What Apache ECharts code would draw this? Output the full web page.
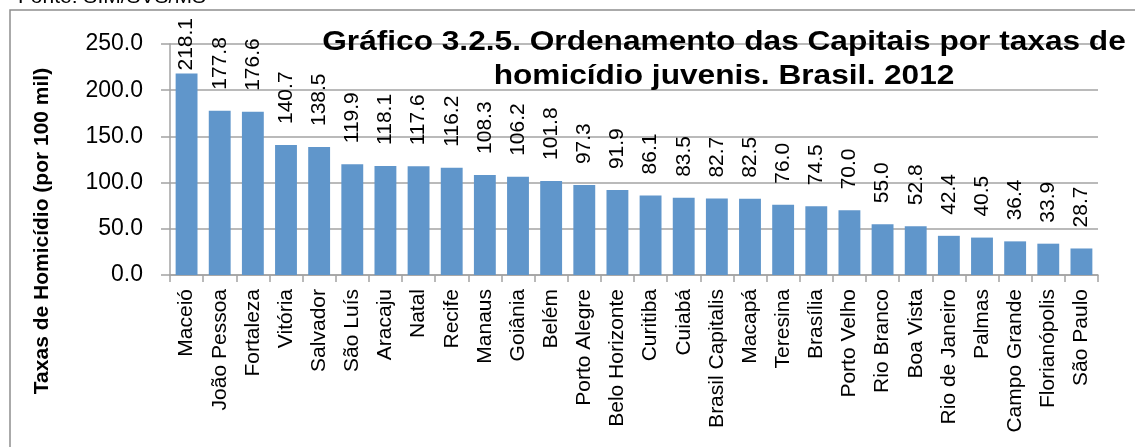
<!DOCTYPE html>
<html>
<head>
<meta charset="utf-8">
<script src="https://cdn.jsdelivr.net/npm/echarts@6/dist/echarts.min.js"></script>
<style>
  html, body { margin: 0; padding: 0; background: #fff; }
  #chart { width: 1135px; height: 447px; }
</style>
</head>
<body>
<div id="chart"></div>
<script>
const capitais = ['Maceió', 'João Pessoa', 'Fortaleza', 'Vitória', 'Salvador', 'São Luís', 'Aracaju',
  'Natal', 'Recife', 'Manaus', 'Goiânia', 'Belém', 'Porto Alegre', 'Belo Horizonte', 'Curitiba',
  'Cuiabá', 'Brasil Capitalis', 'Macapá', 'Teresina', 'Brasília', 'Porto Velho', 'Rio Branco',
  'Boa Vista', 'Rio de Janeiro', 'Palmas', 'Campo Grande', 'Florianópolis', 'São Paulo'];
const taxas = [218.1, 177.8, 176.6, 140.7, 138.5, 119.9, 118.1, 117.6, 116.2, 108.3, 106.2, 101.8,
  97.3, 91.9, 86.1, 83.5, 82.7, 82.5, 76.0, 74.5, 70.0, 55.0, 52.8, 42.4, 40.5, 36.4, 33.9, 28.7];

const font = 'Liberation Sans, Arial, sans-serif';
const gray = '#a3a3a3';
const labelSize = 21;

const chart = echarts.init(document.getElementById('chart'));
chart.setOption({
  backgroundColor: '#fff',
  animation: false,
  textStyle: { fontFamily: font, color: '#000' },
  grid: { left: 170, right: 37, top: 44, bottom: 172 },
  graphic: [
    {
      type: 'rect',
      shape: { x: 10, y: 10, width: 1300, height: 700 },
      style: { fill: 'none', stroke: '#8e8e8e', lineWidth: 1.5 },
      z: -10
    },
    {
      type: 'text',
      x: 18, y: -13,
      style: { text: 'Fonte: SIM/SVS/MS', font: '21px ' + font, fill: '#000' }
    },
    {
      type: 'text',
      x: 724, y: 25,
      scaleX: 1.13,
      z: 100,
      style: {
        text: 'Gráfico 3.2.5. Ordenamento das Capitais por taxas de\nhomicídio juvenis. Brasil. 2012',
        font: 'bold 28px ' + font,
        lineHeight: 34,
        fill: '#000',
        align: 'center', textAlign: 'center',
        verticalAlign: 'top', textVerticalAlign: 'top'
      }
    },
    {
      type: 'text',
      x: 42, y: 231,
      rotation: Math.PI / 2,
      style: {
        text: 'Taxas de Homicídio (por 100 mil)',
        font: 'bold 21px ' + font,
        fill: '#000',
        align: 'center', textAlign: 'center',
        verticalAlign: 'middle', textVerticalAlign: 'middle'
      }
    }
  ],
  xAxis: {
    type: 'category',
    data: capitais,
    boundaryGap: true,
    axisLine: { lineStyle: { color: gray, width: 1.5 } },
    axisTick: { show: true, length: 7, lineStyle: { color: gray, width: 1.5 } },
    axisLabel: { interval: 0, rotate: 90, fontSize: 21, color: '#000', margin: 14 }
  },
  yAxis: {
    type: 'value',
    min: 0, max: 250, interval: 50,
    axisLine: { show: true, lineStyle: { color: gray, width: 1.5 } },
    axisTick: { show: true, length: 9, lineStyle: { color: gray, width: 1.5 } },
    splitLine: { lineStyle: { color: gray, width: 1.5 } },
    axisLabel: {
      fontSize: 23, color: '#000', margin: 27,
      formatter: v => v.toFixed(1)
    }
  },
  series: [{
    type: 'bar',
    data: taxas,
    barCategoryGap: '34%',
    itemStyle: { color: '#6096cb' },
    label: {
      show: true,
      position: 'top',
      rotate: 90,
      align: 'left',
      verticalAlign: 'middle',
      distance: 21,
      fontSize: labelSize,
      color: '#000',
      formatter: p => p.value.toFixed(1)
    }
  }]
});

// labels sit ~21px above the bar, but get pushed down when they would run off the top
const ctx = document.createElement('canvas').getContext('2d');
ctx.font = labelSize + 'px Liberation Sans';
const items = taxas.map(v => {
  const top = chart.convertToPixel({ yAxisIndex: 0 }, v);
  const w = ctx.measureText(v.toFixed(1)).width;
  const d = Math.max(2, Math.min(21, top - 18 - w));
  return { value: v, label: { distance: d } };
});
chart.setOption({ series: [{ data: items }] });
</script>
</body>
</html>
